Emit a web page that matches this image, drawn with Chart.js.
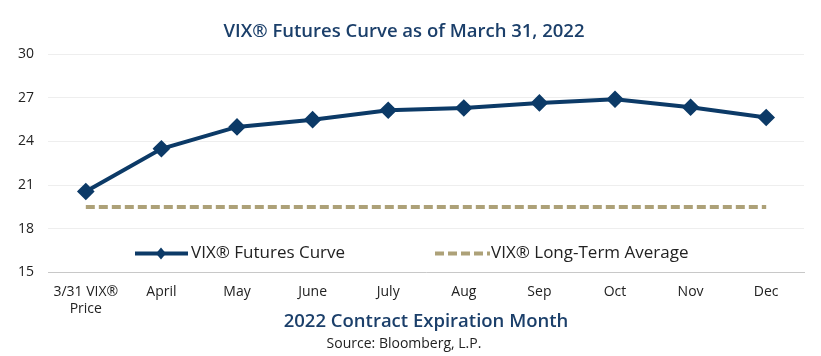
<!DOCTYPE html>
<html><head><meta charset="utf-8">
<script src="https://cdn.jsdelivr.net/npm/chart.js@4"></script>
<style>html,body{margin:0;padding:0;background:#fff;}#wrap{width:821px;height:356px;position:relative;}</style>
</head><body><div id="wrap"><canvas id="c" width="821" height="356"></canvas></div>
<script>
const categories = [["3/31 VIX®","Price"],"April","May","June","July","Aug","Sep","Oct","Nov","Dec"];
const futuresCurve = [20.56, 23.5, 25.0, 25.5, 26.15, 26.3, 26.65, 26.9, 26.35, 25.65];
const longTermAverage = [19.5, 19.5, 19.5, 19.5, 19.5, 19.5, 19.5, 19.5, 19.5, 19.5];
const yTicks = [15, 18, 21, 24, 27, 30];
const seriesNames = ["VIX® Futures Curve", "VIX® Long-Term Average"];

const NAVY = '#0C3A67', TAN = '#ADA178';

const legendPlugin = {
  id: 'inLegend',
  afterDraw(chart) {
    const ctx = chart.ctx;
    const y = chart.scales.y.getPixelForValue(16.3);
    ctx.save();
    ctx.font = '17px "Open Sans"';
    ctx.textBaseline = 'middle';
    ctx.fillStyle = '#222';
    ctx.strokeStyle = NAVY; ctx.lineWidth = 4; ctx.setLineDash([]);
    ctx.beginPath(); ctx.moveTo(135, y); ctx.lineTo(188, y); ctx.stroke();
    ctx.fillStyle = NAVY;
    ctx.beginPath(); ctx.moveTo(161, y-6); ctx.lineTo(166, y); ctx.lineTo(161, y+6); ctx.lineTo(156, y); ctx.closePath(); ctx.fill();
    ctx.fillStyle = '#222';
    ctx.fillText(seriesNames[0], 191, y);
    ctx.strokeStyle = TAN; ctx.lineWidth = 4; ctx.setLineDash([9,4]);
    ctx.beginPath(); ctx.moveTo(435, y); ctx.lineTo(490, y); ctx.stroke();
    ctx.setLineDash([]);
    ctx.fillText(seriesNames[1], 491, y);
    ctx.restore();
  }
};

new Chart(document.getElementById('c'), {
  type: 'line',
  data: {
    labels: categories,
    datasets: [
      { label: seriesNames[0], data: futuresCurve, borderColor: NAVY, backgroundColor: NAVY,
        borderWidth: 4, pointStyle: 'rectRot', pointRadius: 6, pointHoverRadius: 6, tension: 0, order: 0 },
      { label: seriesNames[1], data: longTermAverage, borderColor: TAN, backgroundColor: TAN,
        borderWidth: 4, borderDash: [9,4], pointRadius: 0, tension: 0, order: 1 }
    ]
  },
  options: {
    responsive: false, animation: false,
    layout: { padding: { left: 4, right: 17, top: 6, bottom: 3 } },
    plugins: {
      legend: { display: false },
      tooltip: { enabled: false },
      title: { display: true, text: 'VIX® Futures Curve as of March 31, 2022', color: '#1B3F6A',
        font: { family: 'Open Sans', size: 18.5, weight: '600' }, padding: { top: 15, bottom: 11 } },
      subtitle: { display: true, position: 'bottom', text: 'Source: Bloomberg, L.P.', color: '#222',
        font: { family: 'Open Sans', size: 14 }, padding: { top: 2, bottom: 1 } }
    },
    scales: {
      x: {
        offset: true,
        grid: { display: false, drawTicks: false },
        border: { display: true, color: '#C8C8C8', width: 1 },
        ticks: { color: '#222', font: { family: 'Open Sans', size: 14 }, padding: 11, maxRotation: 0, autoSkip: false },
        title: { display: true, text: '2022 Contract Expiration Month', color: '#1B3F6A',
          font: { family: 'Open Sans', size: 18.5, weight: '600' }, padding: { top: -17, bottom: 0 } }
      },
      y: {
        min: 15, max: 30,
        afterBuildTicks(axis) { axis.ticks = yTicks.map(v => ({ value: v })); },
        grid: { color: '#EEEEEE', drawTicks: false, lineWidth: 1 },
        border: { display: false },
        ticks: { color: '#222', font: { family: 'Open Sans', size: 14 }, padding: 14 }
      }
    }
  },
  plugins: [legendPlugin]
});
</script></body></html>
